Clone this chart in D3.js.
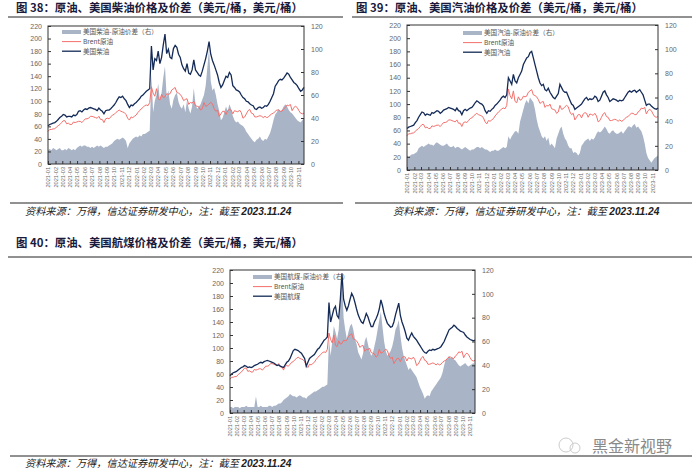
<!DOCTYPE html>
<html><head><meta charset="utf-8">
<script src="https://cdn.jsdelivr.net/npm/d3@7"></script>
<style>body{margin:0;background:#fff}svg{display:block}</style>
</head><body>
<svg id="c" width="700" height="475"></svg>
<script>
// ---------------- DATA (weekly, starting 2021-01-01) ----------------
const startDate = "2021-01-01";
const endDate = "2023-11-24";
const leftTicks = [0,20,40,60,80,100,120,140,160,180,200,220];
const rightTicks = [0,20,40,60,80,100,120];

const brent = [52,55,55,56,56, 59,61,63,66, 69,69,64,65, 63,63,67,66,67, 68,68,66,69, 72,72,73,76,76, 75,74,73,76, 71,71,66,72,73, 72,75,78,79, 82,84,86,84, 83,82,79,73,70, 75,74,76,78,
 82,85,88,90, 93,94,93,98, 123,113,108,120, 104,102,111,106,107, 112,111,112,118, 120,122,114,113,111, 107,101,103,104, 95,98,97,100,93, 92,91,86,88, 98,92,93,96, 98,96,88,84,86, 76,80,84,84,
 79,85,87,86, 80,85,84,83, 86,82,73,75,80, 85,87,81,80, 75,75,76,77,76, 74,76,74,75, 78,80,81,84, 86,86,84,84,88, 90,94,93,95, 85,90,92,90, 85,81,80,81];

const diesel = [61,63,64,65,66, 68,71,74,76, 79,78,75,76, 76,75,78,77,79, 84,85,83,86, 88,87,89,90,89, 88,87,85,89, 86,84,80,85,86, 86,88,91,94, 98,103,107,106, 108,104,101,95,90, 94,93,96,98,
 101,104,108,110, 113,116,118,120, 188,150,168,165, 180,160,170,190,207, 176,183,170,168, 184,189,186,175,170, 158,152,148,160, 145,143,150,166,150, 146,142,140,148, 158,168,180,195, 175,165,158,150,142, 130,122,126,133,
 140,138,146,142, 125,122,118,117, 115,110,106,104,100, 99,96,94,93, 88,87,90,91,89, 90,93,92,95, 100,106,112,124, 128,133,135,134,137, 141,145,143,138, 134,130,128,125, 120,116,118,122];
const dieselSpread = [12,13,12,14,13, 12,13,14,12, 12,13,12,14, 13,12,13,12,14, 15,16,15,16, 16,15,15,14,15, 14,15,16,15, 16,15,14,15,15, 16,17,18,20, 21,22,21,22, 23,22,20,14,18, 20,22,23,24,
 23,25,24,26, 26,27,28,29, 78,45,55,60, 70,55,62,75,85, 58,64,52,48, 56,60,62,54,50, 48,52,45,55, 48,44,50,66,52, 48,50,52,56, 60,68,84,100, 72,64,66,60,52, 46,38,40,45,
 50,46,52,48, 42,38,36,37, 35,34,33,31,28, 26,24,22,20, 19,21,22,24,21, 20,22,21,24, 27,32,38,43, 45,48,46,47,50, 52,50,47,45, 44,42,40,38, 37,36,38,40];

const gasoline = [63,65,66,67,68, 72,75,80,84, 88,87,83,85, 84,83,87,86,88, 90,89,86,88, 91,92,93,95,94, 93,92,90,94, 90,89,84,90,92, 90,92,94,95, 98,102,105,103, 101,100,97,90,86, 90,89,92,94,
 98,100,103,106, 110,112,110,114, 140,135,130,145, 135,132,140,145,150, 160,165,170,172, 178,180,170,160,150, 140,132,128,130, 122,120,124,118,114, 110,108,112,116, 130,125,120,118, 118,112,106,100,98, 92,94,96,98,
 100,104,108,110, 106,108,107,108, 112,110,104,106,112, 118,120,114,110, 104,106,108,107,106, 104,106,105,106, 110,114,118,120, 118,120,121,118,120, 122,118,114,106, 98,100,100,97, 95,93,92,94];
const gasolineSpread = [12,11,12,13,13, 14,15,18,19, 20,19,20,21, 22,21,21,20,22, 23,22,21,20, 20,21,22,20,19, 19,20,18,19, 19,18,17,18,19, 18,17,16,17, 17,18,19,19, 18,19,18,17,17, 16,15,16,16,
 17,16,16,17, 18,19,18,19, 28,25,28,30, 32,32,30,40,45, 50,55,58,55, 60,58,56,50,42, 36,32,28,26, 28,24,27,20,22, 20,18,26,30, 34,36,30,26, 24,20,18,18,14, 15,14,12,14,
 20,22,24,25, 26,24,26,25, 27,30,32,31,32, 34,36,34,31, 30,32,33,31,30, 30,31,32,30, 32,34,36,36, 35,37,38,35,36, 34,32,28,22, 14,10,8,6, 8,10,11,12];

const jet = [57,60,62,63,64, 66,68,70,71, 73,72,70,71, 70,71,73,74,75, 77,78,77,79, 80,81,80,79,78, 77,75,73,74, 72,71,70,74,78, 80,84,90,96, 98,97,96,94, 92,88,84,72,78, 84,86,88,90,
 94,98,100,104, 108,112,114,117, 170,140,150,160, 164,150,146,175,215, 175,165,158,165, 175,184,179,170,160, 151,145,140,138, 145,153,148,140,133, 133,140,145,151, 160,174,165,153, 145,138,135,132,133, 140,151,160,169,
 150,140,133,125, 115,112,118,123, 118,115,112,108,104, 100,96,93,92, 95,97,96,98,97, 98,99,100,102, 106,110,116,122, 128,130,132,135,133, 130,128,126,125, 124,120,117,115, 113,112,111,112];
const jetSpread = [5,5,4,5,5, 5,4,5,5, 5,6,5,5, 5,5,5,14,5, 5,6,5,5, 5,5,6,6,5, 6,6,7,8, 8,9,11,12,13, 14,16,15,14, 14,13,14,15, 14,13,13,12,14, 15,16,17,18,
 18,19,20,21, 22,22,23,24, 62,48,60,73, 68,62,70,95,117, 80,70,62,68, 73,75,70,62,58, 51,48,45,50, 60,64,58,52,48, 50,56,62,70, 78,85,72,60, 52,48,50,52,56, 62,70,73,78,
 65,55,48,44, 40,36,38,36, 34,32,30,26,22, 19,16,12,14, 15,14,18,20,22, 24,26,28,30, 34,40,45,46, 48,46,47,45,44, 42,40,39,40, 41,42,40,39, 40,41,42,40];

const titles = ["图 38：原油、美国柴油价格及价差（美元/桶，美元/桶）",
                "图 39：原油、美国汽油价格及价差（美元/桶，美元/桶）",
                "图 40：原油、美国航煤价格及价差（美元/桶，美元/桶）"];
const legendNames = [["美国柴油-原油价差（右）","Brent原油","美国柴油"],
                     ["美国汽油-原油价差（右）","Brent原油","美国汽油"],
                     ["美国航煤-原油价差（右）","Brent原油","美国航煤"]];
const sourceText = "资料来源：万得，信达证券研发中心，注：截至 ";
const sourceDate = "2023.11.24";

// ---------------- LAYOUT ----------------
const C_AREA = "#a9b4c7", C_RED = "#f4706c", C_NAVY = "#142a57";
const svg = d3.select("#c");
const parse = d3.timeParse("%Y-%m-%d");
const t0 = parse(startDate), t1 = parse(endDate);
const dates = brent.map((_, i) => d3.timeDay.offset(t0, 7 * i));
const months = d3.timeMonth.range(t0, t1);

const panels = [
  {x0:48, x1:304, y0:26, y1:164, prod:diesel, spread:dieselSpread, leg:[62,32], title:[16,12], tline:[8,343,17], src:[25,215], sline:[10,343,203]},
  {x0:407, x1:658, y0:25, y1:170, prod:gasoline, spread:gasolineSpread, leg:[463,33], title:[356,12], tline:[352,692,17], src:[393,215], sline:[355,692,203]},
  {x0:230, x1:475, y0:270, y1:413, prod:jet, spread:jetSpread, leg:[253,277], title:[16,247], tline:[8,692,257], src:[25,467], sline:[10,692,456]}
];
const FONT = "'Liberation Sans', Arial, sans-serif";
const CJK = "'Noto Sans CJK SC', 'Noto Sans', sans-serif";

panels.forEach((p, k) => {
  const g = svg.append("g");
  const x = d3.scaleTime().domain([t0, t1]).range([p.x0, p.x1]);
  const yL = d3.scaleLinear().domain([0, 220]).range([p.y1, p.y0]);
  const yR = d3.scaleLinear().domain([0, 120]).range([p.y1, p.y0]);

  // title
  g.append("text").attr("x", p.title[0]).attr("y", p.title[1])
    .attr("font-family", CJK).attr("font-weight", 700).attr("font-size", 11.4)
    .attr("fill", "#1a1a3c").text(titles[k]);
  g.append("line").attr("x1", p.tline[0]).attr("x2", p.tline[1]).attr("y1", p.tline[2]).attr("y2", p.tline[2])
    .attr("stroke", "#222").attr("stroke-width", 1);

  // area
  g.append("path").datum(p.spread)
    .attr("d", d3.area().x((d, i) => x(dates[i])).y0(yR(0)).y1(d => yR(d)))
    .attr("fill", C_AREA);
  // lines
  g.append("path").datum(brent)
    .attr("d", d3.line().x((d, i) => x(dates[i])).y(d => yL(d)))
    .attr("fill", "none").attr("stroke", C_RED).attr("stroke-width", 1);
  g.append("path").datum(p.prod)
    .attr("d", d3.line().x((d, i) => x(dates[i])).y(d => yL(d)))
    .attr("fill", "none").attr("stroke", C_NAVY).attr("stroke-width", 1.3);

  // frame
  g.append("rect").attr("x", p.x0).attr("y", p.y0).attr("width", p.x1 - p.x0).attr("height", p.y1 - p.y0)
    .attr("fill", "none").attr("stroke", "#333").attr("stroke-width", 1);

  const la = g.append("g").attr("transform", `translate(${p.x0},0)`)
    .call(d3.axisLeft(yL).tickValues(leftTicks).tickSizeInner(-3).tickSizeOuter(0).tickPadding(6));
  const ra = g.append("g").attr("transform", `translate(${p.x1},0)`)
    .call(d3.axisRight(yR).tickValues(rightTicks).tickSizeInner(-3).tickSizeOuter(0).tickPadding(7));
  const ba = g.append("g").attr("transform", `translate(0,${p.y1})`)
    .call(d3.axisBottom(x).tickValues(months).tickFormat(d3.timeFormat("%Y-%m")).tickSizeInner(-3).tickSizeOuter(0).tickPadding(3));
  [la, ra, ba].forEach(a => {
    a.select(".domain").remove();
    a.selectAll("line").attr("stroke", "#333");
    a.selectAll("text").attr("font-family", FONT).attr("fill", "#666").attr("font-size", 7);
  });
  ba.selectAll("text").attr("font-size", 5.6)
    .attr("transform", "rotate(-90)").attr("text-anchor", "end")
    .attr("x", -3).attr("y", 0).attr("dy", "0.32em");

  // legend
  const [lx, ly] = p.leg;
  const lg = g.append("g").attr("font-family", CJK).attr("font-size", 6.6).attr("fill", "#555");
  const sw = [{c: C_AREA, w: 4}, {c: C_RED, w: 1}, {c: C_NAVY, w: 1.3}];
  legendNames[k].forEach((n, j) => {
    const yy = ly + j * 9.6;
    lg.append("line").attr("x1", lx).attr("x2", lx + 19).attr("y1", yy).attr("y2", yy)
      .attr("stroke", sw[j].c).attr("stroke-width", sw[j].w);
    lg.append("text").attr("x", lx + 21).attr("y", yy).attr("dy", "0.35em").text(n);
  });

  // source
  g.append("line").attr("x1", p.sline[0]).attr("x2", p.sline[1]).attr("y1", p.sline[2]).attr("y2", p.sline[2])
    .attr("stroke", "#222").attr("stroke-width", 1);
  const st = g.append("text").attr("x", p.src[0]).attr("y", p.src[1]).attr("font-size", 10.2)
    .attr("font-style", "italic").attr("fill", "#222");
  st.append("tspan").attr("font-family", CJK).text(sourceText);
  st.append("tspan").attr("font-family", FONT).attr("font-weight", 700).text(sourceDate);
});

// watermark
const wm = svg.append("g");
wm.append("circle").attr("cx", 566).attr("cy", 445).attr("r", 7).attr("fill", "none").attr("stroke", "#ccc").attr("stroke-width", 1);
wm.append("circle").attr("cx", 575).attr("cy", 448).attr("r", 5).attr("fill", "none").attr("stroke", "#ccc").attr("stroke-width", 1);
wm.append("text").attr("x", 592).attr("y", 452).attr("font-family", CJK).attr("font-size", 16)
  .attr("fill", "#8a8a8a").text("黑金新视野");
</script>
</body></html>
